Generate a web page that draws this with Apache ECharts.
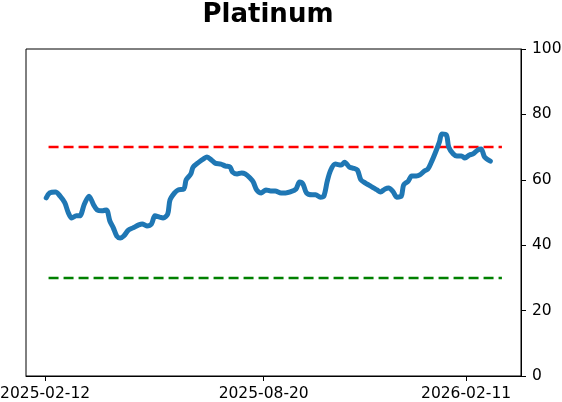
<!DOCTYPE html>
<html>
<head>
<meta charset="utf-8">
<script src="https://cdn.jsdelivr.net/npm/echarts@6/dist/echarts.min.js"></script>
<style>
  html, body { margin: 0; padding: 0; background: #fff; }
  #chart { width: 562px; height: 402px; }
</style>
</head>
<body>
<div id="chart"></div>
<script>
// Platinum indicator
var dates = [
  '2025-02-13', '2025-02-16', '2025-02-21', '2025-02-25', '2025-03-01', '2025-03-04', '2025-03-07', '2025-03-11',
  '2025-03-14', '2025-03-18', '2025-03-22', '2025-03-26', '2025-03-29', '2025-04-02', '2025-04-06', '2025-04-09',
  '2025-04-12', '2025-04-15', '2025-04-18', '2025-04-21', '2025-04-25', '2025-04-29', '2025-05-04', '2025-05-07',
  '2025-05-11', '2025-05-15', '2025-05-18', '2025-05-22', '2025-05-25', '2025-05-29', '2025-05-31', '2025-06-04',
  '2025-06-07', '2025-06-12', '2025-06-14', '2025-06-18', '2025-06-20', '2025-06-25', '2025-06-29', '2025-07-02',
  '2025-07-06', '2025-07-09', '2025-07-14', '2025-07-18', '2025-07-22', '2025-07-24', '2025-07-28', '2025-08-01',
  '2025-08-04', '2025-08-08', '2025-08-11', '2025-08-14', '2025-08-18', '2025-08-22', '2025-08-26', '2025-08-30',
  '2025-09-04', '2025-09-08', '2025-09-12', '2025-09-17', '2025-09-20', '2025-09-23', '2025-09-26', '2025-10-01',
  '2025-10-04', '2025-10-08', '2025-10-11', '2025-10-14', '2025-10-17', '2025-10-21', '2025-10-26', '2025-10-29',
  '2025-11-02', '2025-11-05', '2025-11-09', '2025-11-12', '2025-11-16', '2025-11-19', '2025-11-23', '2025-11-26',
  '2025-11-29', '2025-12-03', '2025-12-06', '2025-12-10', '2025-12-13', '2025-12-17', '2025-12-19', '2025-12-23',
  '2025-12-26', '2025-12-30', '2026-01-02', '2026-01-06', '2026-01-09', '2026-01-12', '2026-01-15', '2026-01-19',
  '2026-01-21', '2026-01-25', '2026-01-27', '2026-01-31', '2026-02-03', '2026-02-07', '2026-02-10', '2026-02-14',
  '2026-02-17', '2026-02-21', '2026-02-24', '2026-02-27', '2026-03-04'
];
var values = [
  54.5, 56.0, 56.3, 55.0, 53.0, 50.0, 48.3, 49.0,
  49.0, 52.6, 55.0, 52.3, 50.8, 50.5, 50.8, 47.4,
  45.3, 42.8, 42.2, 42.8, 44.6, 45.3, 46.2, 46.5,
  45.9, 46.5, 49.0, 48.6, 48.3, 49.5, 53.8, 56.0,
  56.9, 57.2, 60.0, 61.8, 63.9, 65.4, 66.4, 67.0,
  66.0, 65.1, 64.8, 64.2, 63.9, 62.4, 61.8, 62.1,
  61.8, 60.6, 59.3, 56.9, 56.0, 56.9, 56.6, 56.6,
  56.0, 56.0, 56.3, 57.2, 59.3, 58.7, 56.0, 55.4,
  55.4, 54.7, 55.0, 59.6, 63.0, 64.8, 64.5, 65.4,
  63.9, 63.6, 63.0, 60.0, 59.0, 58.4, 57.5, 56.9,
  56.3, 57.2, 57.5, 56.3, 54.7, 55.0, 58.4, 59.6,
  61.2, 61.2, 61.5, 62.7, 63.3, 65.4, 67.9, 71.6,
  74.0, 73.7, 70.0, 67.9, 67.3, 67.3, 66.7, 67.6,
  67.9, 69.1, 69.4, 67.0, 65.7
];
var bandDates = ['2025-02-15', '2026-03-14'];
var upperLevel = 70;
var lowerLevel = 30;
var tickDates = ['2025-02-12', '2025-08-20', '2026-02-11'];

var FONT = 'DejaVu Sans';

function ts(s) { return Date.parse(s + 'T00:00:00Z'); }
function fmtDate(v) { return new Date(v).toISOString().slice(0, 10); }

var lineData = dates.map(function (d, i) { return [ts(d), values[i]]; });
var upperData = bandDates.map(function (d) { return [ts(d), upperLevel]; });
var lowerData = bandDates.map(function (d) { return [ts(d), lowerLevel]; });
var tickValues = tickDates.map(ts);

var chart = echarts.init(document.getElementById('chart'), null, { renderer: 'canvas' });
chart.setOption({
  animation: false,
  backgroundColor: '#fff',
  title: {
    text: 'Platinum', left: 263, top: -3, textAlign: 'center',
    textStyle: { fontFamily: FONT, fontSize: 26, fontWeight: 'bold', color: '#000' }
  },
  grid: {
    left: 26, right: 41, top: 49, bottom: 26, outerBoundsMode: 'none', containLabel: false,
    show: true, borderColor: '#000', borderWidth: 1
  },
  xAxis: {
    type: 'value',
    min: ts('2025-01-26') + 12 * 3600e3,
    max: ts('2026-03-30') + 12 * 3600e3,
    splitLine: { show: false },
    axisLine: { show: true, lineStyle: { color: '#000', width: 1 } },
    axisTick: { show: true, length: 5, lineStyle: { color: '#000' }, customValues: tickValues },
    axisLabel: {
      customValues: tickValues, color: '#000', fontFamily: FONT, fontSize: 15.5, margin: 10,
      hideOverlap: false, formatter: function (v) { return fmtDate(v); }
    }
  },
  yAxis: {
    type: 'value', position: 'right', min: 0, max: 100, interval: 20,
    splitLine: { show: false },
    axisLine: { show: true, lineStyle: { color: '#000', width: 1 } },
    axisTick: { show: true, length: 5, lineStyle: { color: '#000' } },
    axisLabel: { color: '#000', fontFamily: FONT, fontSize: 15.5, margin: 11 }
  },
  series: [
    {
      type: 'line', data: upperData, symbol: 'none', silent: true,
      lineStyle: { color: '#ff0000', width: 2.5, type: [10, 5] }
    },
    {
      type: 'line', data: lowerData, symbol: 'none', silent: true,
      lineStyle: { color: '#008000', width: 2.5, type: [10, 5] }
    },
    {
      type: 'line', data: lineData, symbol: 'none', smooth: 0.3, z: 5,
      lineStyle: { color: '#1f77b4', width: 5, cap: 'round', join: 'round' }
    }
  ]
});
</script>
</body>
</html>
